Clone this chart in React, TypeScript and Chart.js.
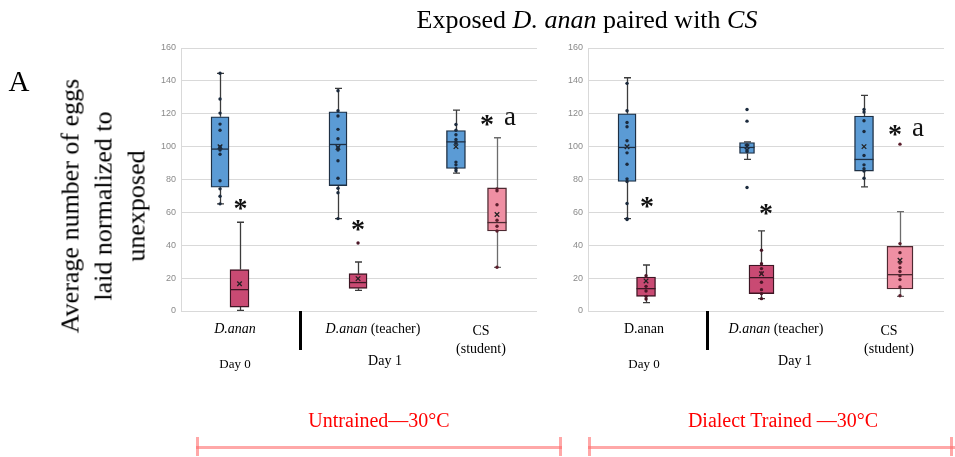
import React, { useEffect, useRef } from "react";
import { Chart, registerables } from "chart.js";

Chart.register(...registerables);

// ---------- data ----------
const yMin = 0;
const yMax = 160;
const yStep = 20;
const categories = ["D.anan", "D.anan (teacher)", "CS (student)"];
const dayLabels = ["Day 0", "Day 1"];
const groupLabels = ["Untrained\u201430\u00b0C", "Dialect Trained \u201430\u00b0C"];

// box order: [D.anan control, D.anan exposed, teacher control, teacher exposed, CS control, CS exposed]
const boxKinds = ["control", "exposed", "control", "exposed", "control", "student"];

// Untrained — 30°C
const untrainedLow = [65.2, 0.4, 56.2, 12.6, 83.9, 26.6];
const untrainedQ1 = [75.3, 2.4, 76.3, 13.8, 86.7, 48.7];
const untrainedMedian = [98.5, 13.0, 101.3, 17.3, 102.9, 53.8];
const untrainedQ3 = [118.2, 25.2, 121.2, 22.7, 109.8, 74.9];
const untrainedHigh = [144.6, 54.0, 135.4, 29.8, 122.2, 105.4];
const untrainedMean = [99.9, 16.6, 99.5, 19.7, 100.0, 58.7];
const untrainedPoints = [
  [144.6, 129.0, 120.4, 113.7, 110.0, 99.9, 98.9, 97.9, 95.4, 79.2, 74.3, 69.8, 65.2],
  [],
  [134.0, 121.8, 118.6, 110.5, 104.8, 99.5, 97.9, 91.4, 80.8, 74.7, 71.9, 56.2],
  [],
  [113.5, 110.0, 107.2, 104.4, 103.0, 102.0, 90.6, 88.9, 86.7, 85.3],
  [74.3, 73.1, 64.6, 55.2, 51.6, 48.7, 26.6],
];
const untrainedOutliers = [[], [], [], [41.4], [], []];
const untrainedMarkText = ["*", "*", "*", "a"];
const untrainedMarkX = [0.501, 1.492, 2.579, 2.772];
const untrainedMarkY = [65.0, 51.9, 115.8, 117.4];

// Dialect Trained — 30°C
const trainedLow = [56.2, 5.1, 92.2, 7.5, 75.5, 8.9];
const trainedQ1 = [78.8, 8.9, 95.8, 10.6, 85.1, 13.4];
const trainedMedian = [99.5, 13.6, 99.5, 20.3, 92.2, 22.1];
const trainedQ3 = [120.0, 20.7, 102.5, 28.0, 118.6, 39.4];
const trainedHigh = [141.9, 28.0, 102.9, 48.7, 131.2, 60.5];
const trainedMean = [99.9, 18.3, 99.9, 22.7, 100.0, 30.9];
const trainedPoints = [
  [138.5, 121.8, 114.7, 112.1, 103.6, 96.2, 89.3, 80.4, 78.8, 65.4, 56.2],
  [21.5, 15.0, 12.2, 8.9, 7.3],
  [101.0, 98.0, 97.0],
  [37.0, 28.8, 25.8, 23.1, 17.5, 13.0, 10.6, 7.5],
  [122.6, 121.0, 115.7, 109.2, 94.6, 88.9, 86.5, 85.1, 80.8],
  [41.0, 35.5, 29.2, 26.4, 24.0, 21.5, 19.1, 14.6, 9.3],
];
const trainedOutliers = [[55.6], [], [122.6, 115.5, 75.1], [], [], [101.5]];
const trainedMarkText = ["*", "*", "*", "a"];
const trainedMarkX = [0.497, 1.5, 2.587, 2.781];
const trainedMarkY = [65.9, 61.9, 110.1, 110.7];

// ---------- layout (positions / sizes, kept apart from data) ----------
const untrainedBoxX = [0.329, 0.493, 1.323, 1.492, 2.317, 2.663];
const untrainedBoxW = [18, 19, 18, 18, 19, 19];
const trainedBoxX = [0.329, 0.489, 1.34, 1.462, 2.326, 2.629];
const trainedBoxW = [18, 19, 15, 25, 19, 26];

const kindStyle: Record<string, { fill: string; border: string; whisker: string; dot: string }> = {
  control: { fill: "#5b9bd5", border: "#1e3045", whisker: "#3c3c3c", dot: "#1b2a3d" },
  exposed: { fill: "#c94a73", border: "#3e1624", whisker: "#3c3c3c", dot: "#4a1626" },
  student: { fill: "#ef8fa3", border: "#4e2a32", whisker: "#6c6c6c", dot: "#5a1e2c" },
};

type Panel = {
  low: number[]; q1: number[]; median: number[]; q3: number[]; high: number[]; mean: number[];
  points: number[][]; outliers: number[][];
  markText: string[]; markX: number[]; markY: number[];
  boxX: number[]; boxW: number[];
  left: number; right: number;
};

const panels: Panel[] = [
  {
    low: untrainedLow, q1: untrainedQ1, median: untrainedMedian, q3: untrainedQ3, high: untrainedHigh,
    mean: untrainedMean, points: untrainedPoints, outliers: untrainedOutliers,
    markText: untrainedMarkText, markX: untrainedMarkX, markY: untrainedMarkY,
    boxX: untrainedBoxX, boxW: untrainedBoxW, left: 181, right: 537,
  },
  {
    low: trainedLow, q1: trainedQ1, median: trainedMedian, q3: trainedQ3, high: trainedHigh,
    mean: trainedMean, points: trainedPoints, outliers: trainedOutliers,
    markText: trainedMarkText, markX: trainedMarkX, markY: trainedMarkY,
    boxX: trainedBoxX, boxW: trainedBoxW, left: 588, right: 944,
  },
];

const W = 955;
const H = 457;
const AXIS_W = 41;
const AREA_TOP = 48;
const AREA_BOTTOM = 311;

function buildConfig(p: Panel): any {
  const datasets: any[] = [];
  p.boxX.forEach((bx, i) => {
    const st = kindStyle[boxKinds[i]];
    const pts = p.points[i].concat(p.outliers[i]).map((v) => ({ x: bx, y: v }));
    datasets.push({
      type: "scatter",
      data: pts,
      pointRadius: 1.7,
      backgroundColor: st.dot,
      pointBackgroundColor: st.dot,
      borderColor: st.dot,
      pointBorderWidth: 0,
      order: 0,
    });
    datasets.push({
      type: "scatter",
      data: [{ x: bx, y: p.mean[i] }],
      pointStyle: "crossRot",
      pointRadius: 3.2,
      borderColor: "#222",
      pointBorderColor: "#222",
      pointBorderWidth: 1.3,
      order: 0,
    });
    datasets.push({
      type: "bar",
      data: [{ x: bx, y: [p.q1[i], p.q3[i]] }],
      backgroundColor: st.fill,
      borderColor: st.border,
      borderWidth: 1.4,
      borderSkipped: false,
      barThickness: p.boxW[i],
      grouped: false,
      order: 1,
    });
  });

  const decor = {
    id: "boxDecor",
    beforeDatasetsDraw(chart: any) {
      const { ctx, scales } = chart;
      const x = scales.x;
      const y = scales.y;
      ctx.save();
      p.boxX.forEach((bx, i) => {
        const st = kindStyle[boxKinds[i]];
        const cx = Math.round(x.getPixelForValue(bx)) + 0.5;
        const yHigh = y.getPixelForValue(p.high[i]);
        const yQ3 = y.getPixelForValue(p.q3[i]);
        const yQ1 = y.getPixelForValue(p.q1[i]);
        const yLow = y.getPixelForValue(p.low[i]);
        ctx.strokeStyle = st.whisker;
        ctx.lineWidth = 1.3;
        ctx.beginPath();
        ctx.moveTo(cx, yQ3);
        ctx.lineTo(cx, yHigh);
        ctx.moveTo(cx - 3.5, yHigh);
        ctx.lineTo(cx + 3.5, yHigh);
        ctx.moveTo(cx, yQ1);
        ctx.lineTo(cx, yLow);
        ctx.moveTo(cx - 3.5, yLow);
        ctx.lineTo(cx + 3.5, yLow);
        ctx.stroke();
      });
      ctx.restore();
    },
    afterDatasetsDraw(chart: any) {
      const { ctx, scales } = chart;
      const x = scales.x;
      const y = scales.y;
      ctx.save();
      p.boxX.forEach((bx, i) => {
        const st = kindStyle[boxKinds[i]];
        const cx = x.getPixelForValue(bx);
        const ym = y.getPixelForValue(p.median[i]);
        const hw = p.boxW[i] / 2;
        ctx.strokeStyle = st.border;
        ctx.lineWidth = 1.3;
        ctx.beginPath();
        ctx.moveTo(cx - hw, ym);
        ctx.lineTo(cx + hw, ym);
        ctx.stroke();
      });
      ctx.fillStyle = "#111";
      ctx.textAlign = "center";
      ctx.textBaseline = "alphabetic";
      p.markText.forEach((t, i) => {
        ctx.font = t === "*" ? 'bold 28px "Liberation Serif"' : '27px "Liberation Serif"';
        const m = ctx.measureText(t);
        const cx = x.getPixelForValue(p.markX[i]);
        const cy = y.getPixelForValue(p.markY[i]);
        const base = cy + (m.actualBoundingBoxAscent - m.actualBoundingBoxDescent) / 2;
        ctx.fillText(t, cx, base);
      });
      ctx.restore();
    },
  };

  return {
    type: "bar",
    data: { datasets },
    options: {
      responsive: false,
      animation: false,
      events: [],
      layout: {
        padding: {
          left: p.left - AXIS_W,
          right: W - p.right,
          top: AREA_TOP,
          bottom: H - AREA_BOTTOM,
        },
      },
      plugins: { legend: { display: false }, tooltip: { enabled: false } },
      scales: {
        x: { type: "linear", min: 0, max: categories.length, display: false, offset: false },
        y: {
          type: "linear",
          min: yMin,
          max: yMax,
          beginAtZero: true,
          afterFit: (s: any) => {
            s.width = AXIS_W;
          },
          ticks: {
            stepSize: yStep,
            padding: 5,
            color: "#8a8a8a",
            font: { family: '"Liberation Sans"', size: 9 },
          },
          grid: { color: "#d9d9d9", lineWidth: 1, drawTicks: false },
          border: { display: true, color: "#d9d9d9" },
        },
      },
    },
    plugins: [decor],
  };
}

function PanelChart({ panel }: { panel: Panel }) {
  const ref = useRef<HTMLCanvasElement>(null);
  useEffect(() => {
    const chart = new Chart(ref.current as HTMLCanvasElement, buildConfig(panel));
    return () => chart.destroy();
  }, [panel]);
  return (
    <canvas
      ref={ref}
      width={W}
      height={H}
      style={{ position: "absolute", left: 0, top: 0, width: W, height: H }}
    />
  );
}

function T({
  x, y, size, children, color = "#000", lh = 1,
}: { x: number; y: number; size: number; children: any; color?: string; lh?: number }) {
  return (
    <div
      style={{
        position: "absolute",
        left: x,
        top: y,
        transform: "translate(-50%, -50%)",
        whiteSpace: "nowrap",
        fontSize: size,
        lineHeight: lh,
        color,
        textAlign: "center",
      }}
    >
      {children}
    </div>
  );
}

const bracketColor = "rgba(255, 110, 110, 0.6)";

export default function App() {
  const [cDanan, cTeacher, cStudent] = categories;
  const teacherSuffix = cTeacher.replace(cDanan, "");
  const [csTop, csBottom] = cStudent.split(" ");
  return (
    <div
      style={{
        position: "absolute",
        left: 0,
        top: 0,
        width: W,
        height: H,
        background: "#fff",
        overflow: "hidden",
        fontFamily: '"Liberation Serif", "Times New Roman", serif',
      }}
    >
      {panels.map((p, i) => (
        <PanelChart key={i} panel={p} />
      ))}

      <T x={587} y={20} size={26}>
        Exposed <i>D. anan</i> paired with <i>CS</i>
      </T>
      <T x={19} y={81} size={29}>A</T>
      <div
        style={{
          position: "absolute",
          left: 103,
          top: 206,
          transform: "translate(-50%, -50%) rotate(-90deg)",
          whiteSpace: "nowrap",
          fontSize: 26,
          lineHeight: "33px",
          textAlign: "center",
        }}
      >
        Average number of eggs
        <br />
        laid normalized to
        <br />
        unexposed
      </div>

      {/* panel 1 labels */}
      <T x={235} y={329} size={14}><i>{cDanan}</i></T>
      <T x={373} y={329} size={14}><i>{cDanan}</i>{teacherSuffix}</T>
      <T x={481} y={340} size={14} lh={1.3}>{csTop}<br />{csBottom}</T>
      <T x={235} y={363} size={13}>{dayLabels[0]}</T>
      <T x={385} y={361} size={14}>{dayLabels[1]}</T>

      {/* panel 2 labels */}
      <T x={644} y={329} size={14}>{cDanan}</T>
      <T x={776} y={329} size={14}><i>{cDanan}</i>{teacherSuffix}</T>
      <T x={889} y={340} size={14} lh={1.3}>{csTop}<br />{csBottom}</T>
      <T x={644} y={363} size={13}>{dayLabels[0]}</T>
      <T x={795} y={361} size={14}>{dayLabels[1]}</T>

      {/* separators */}
      <div style={{ position: "absolute", left: 299, top: 311, width: 3, height: 39, background: "#000" }} />
      <div style={{ position: "absolute", left: 706, top: 311, width: 3, height: 39, background: "#000" }} />

      {/* group labels */}
      <T x={379} y={420} size={20} color="#ff0000">{groupLabels[0]}</T>
      <T x={783} y={420} size={20} color="#ff0000">{groupLabels[1]}</T>

      {/* brackets */}
      <div style={{ position: "absolute", left: 196, top: 446, width: 366, height: 3, background: bracketColor }} />
      <div style={{ position: "absolute", left: 196, top: 437, width: 3, height: 19, background: bracketColor }} />
      <div style={{ position: "absolute", left: 559, top: 437, width: 3, height: 19, background: bracketColor }} />
      <div style={{ position: "absolute", left: 588, top: 446, width: 367, height: 3, background: bracketColor }} />
      <div style={{ position: "absolute", left: 588, top: 437, width: 3, height: 19, background: bracketColor }} />
      <div style={{ position: "absolute", left: 950, top: 437, width: 3, height: 19, background: bracketColor }} />
    </div>
  );
}
